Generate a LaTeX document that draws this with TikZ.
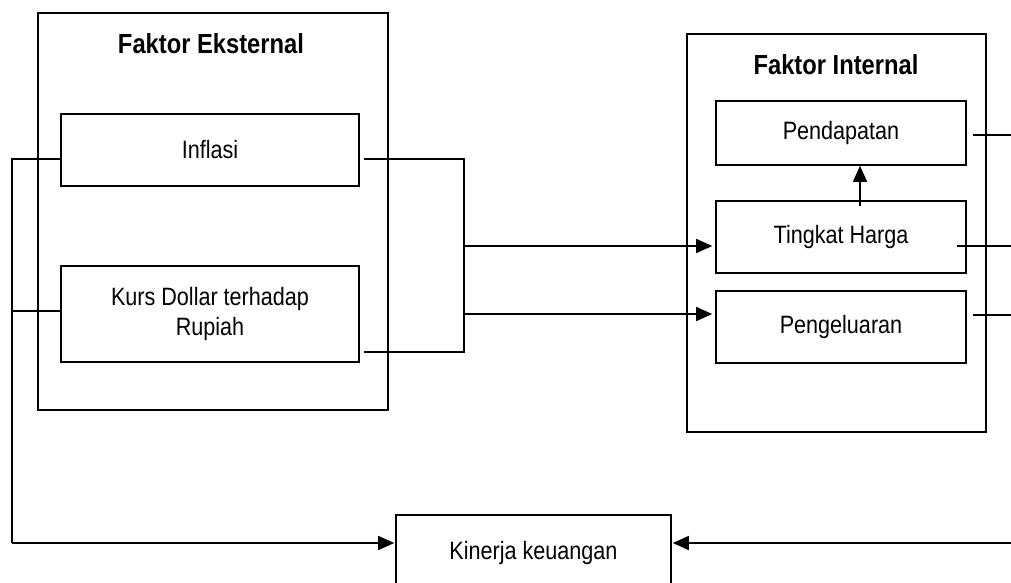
\documentclass[tikz,border=0pt]{standalone}
\usepackage{fontspec}
\setmainfont{Liberation Sans}
\newfontfamily\narrowsans[FakeStretch=0.86]{Liberation Sans}
\usetikzlibrary{arrows.meta,calc}
\tikzset{
  outerbox/.style={draw, line width=2.4pt, inner sep=0pt, anchor=center},
  innerbox/.style={draw, line width=1.6pt, inner sep=0pt, align=center,
    font=\narrowsans\fontsize{25.1}{30}\selectfont},
  title/.style={font=\narrowsans\bfseries\fontsize{27.6}{32}\selectfont, inner sep=0pt},
  conn/.style={line width=1.6pt},
  arr/.style={conn, -{Triangle[length=16pt,width=14pt]}},
}
\begin{document}
\begin{tikzpicture}[x=1pt,y=-1pt]
\clip (0,0) rectangle (1011,582);
\fill[white] (0,0) rectangle (1011,582);
% outer boxes
\node[outerbox, minimum width=350, minimum height=397] (ext) at (213,211.5) {};
\node[outerbox, minimum width=299, minimum height=398] (int) at (836.5,233) {};
\node[title] (extT) at (211,44) {Faktor Eksternal};
\node[title] (intT) at (836,65) {Faktor Internal};
% inner boxes
\node[innerbox, minimum width=298, minimum height=72] (inflasi) at (210,150) {Inflasi};
\node[innerbox, minimum width=298, minimum height=96] (kurs) at (210,314) {Kurs Dollar terhadap\\Rupiah};
\node[innerbox, minimum width=250, minimum height=64] (pendapatan) at (841,133) {Pendapatan};
\node[innerbox, minimum width=250, minimum height=72] (harga) at (841,237) {Tingkat Harga};
\node[innerbox, minimum width=250, minimum height=72] (pengeluaran) at (841,327) {Pengeluaran};
\node[innerbox, minimum width=275, minimum height=75] (kinerja) at (533.5,552.5) {Kinerja keuangan};
% coordinates
\coordinate (lt) at (12,159);
\coordinate (lk) at (12,311);
\coordinate (lb) at (12,543);
\coordinate (mt) at (464,159);
\coordinate (mb) at (464,352);
\coordinate (m1) at (464,246);
\coordinate (m2) at (464,314);
\coordinate (rP) at (1015,135);
\coordinate (rH) at (1015,246);
\coordinate (rG) at (1015,315);
\coordinate (rb) at (1015,543);
% left connectors
\draw[conn] ($(inflasi.west)+(0,9)$) -- (lt) -- (lb);
\draw[arr] (lb) -- ($(kinerja.west |- lb)+(-1,0)$);
\draw[conn] ($(kurs.west)+(0,-3)$) -- (lk);
% middle connectors
\draw[conn] ($(inflasi.east)+(4,9)$) -- (mt) -- (mb) -- ($(kurs.east)+(4,38)$);
\draw[arr] (m1) -- ($(harga.west |- m1)+(-3,0)$);
\draw[arr] (m2) -- ($(pengeluaran.west |- m2)+(-3,0)$);
% internal arrow
\draw[arr] ($(harga.north)+(19,6)$) -- (pendapatan.south -| {$(harga.north)+(19,6)$});
% right connectors
\draw[conn] ($(pendapatan.east)+(6,2)$) -- (rP);
\draw[conn] ($(harga.east)+(-10,9)$) -- (rH);
\draw[conn] ($(pengeluaran.east)+(6,-12)$) -- (rG);
\draw[arr] (rb) -- ($(kinerja.east |- rb)+(1,0)$);
\end{tikzpicture}
\end{document}
